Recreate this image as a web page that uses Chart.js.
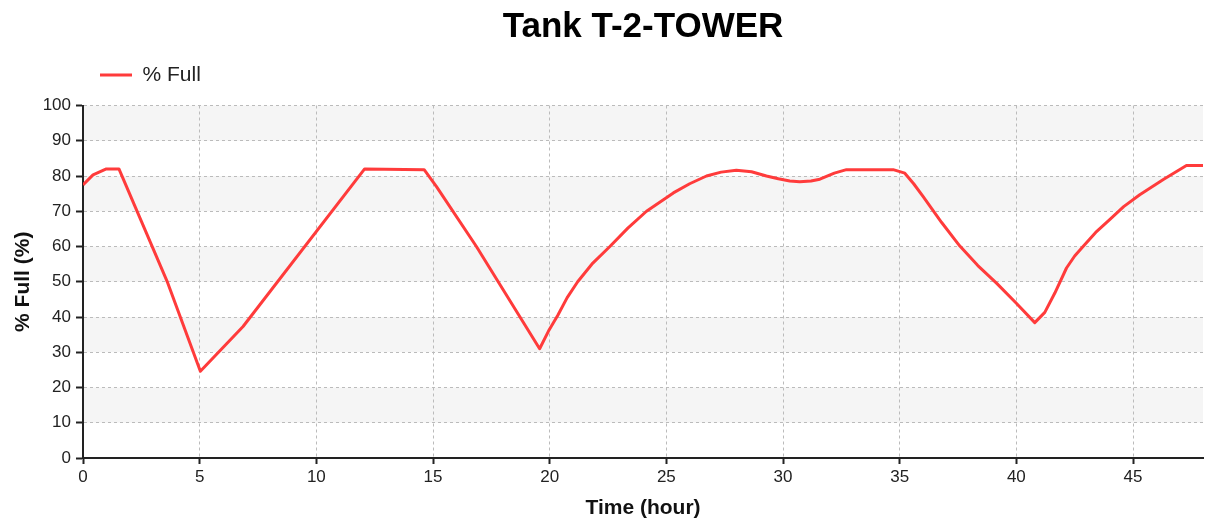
<!DOCTYPE html>
<html lang="en">
<head>
  <meta charset="UTF-8" />
  <title>Tank T-2-TOWER</title>
  <style>
    html, body {
      margin: 0;
      background: #ffffff;
    }
    .wrap {
      width: 1205px;
      height: 521px;
    }
  </style>
</head>
<body>
  <div class="wrap">
    <canvas id="tankChart" width="1205" height="521"></canvas>
  </div>

  <script src="https://cdn.jsdelivr.net/npm/chart.js"></script>
  <script>
    // Tank level over two days
    const hours = [
      0, 0.43, 1.0, 1.54, 3.6, 5.03, 6.86, 12.07, 14.62, 15.15, 16.86, 19.57,
      19.95, 20.35, 20.75, 21.2, 21.85, 22.58, 23.35, 24.15, 25.3, 26.0, 26.72, 27.35,
      28.0, 28.65, 29.29, 29.8, 30.29, 30.72, 31.2, 31.58, 32.2, 32.72, 34.72, 35.22,
      35.6, 36.0, 36.8, 37.57, 38.35, 39.15, 40.0, 40.79, 41.22, 41.65, 42.15, 42.5,
      42.86, 43.4, 44.0, 44.6, 45.29, 46.3, 47.29, 48.0
    ];
    const pctFull = [
      77.5, 80.3, 82.0, 82.0, 50.2, 24.6, 37.3, 82.0, 81.8, 77.0, 60.0, 31.0,
      36.0, 40.5, 45.5, 50.0, 55.3, 60.0, 65.2, 70.0, 75.2, 77.8, 80.0, 81.1,
      81.6, 81.2, 80.0, 79.2, 78.6, 78.4, 78.6, 79.1, 80.8, 81.8, 81.8, 80.8,
      77.8, 74.2, 66.8, 60.2, 54.6, 49.6, 43.9, 38.4, 41.3, 46.8, 53.9, 57.3,
      60.0, 64.0, 67.6, 71.3, 74.7, 79.0, 83.0, 83.0
    ];
    const xTickStep = 5;
    const yTickStep = 10;

    const fontFamily = '"Liberation Sans", Arial, sans-serif';
    const lineColor = '#ff3b3b';

    // light grey band behind every other 10% step
    const bandPlugin = {
      id: 'bands',
      beforeDraw(chart) {
        const { ctx, chartArea } = chart;
        const y = chart.scales.y;
        ctx.save();
        ctx.fillStyle = '#f5f5f5';
        for (let i = 1; i < y.ticks.length - 1; i += 2) {
          const top = y.getPixelForValue(y.ticks[i + 1].value);
          const bottom = y.getPixelForValue(y.ticks[i].value);
          ctx.fillRect(chartArea.left, top, chartArea.right - chartArea.left, bottom - top);
        }
        ctx.restore();
      }
    };

    // title centred over the plot, legend lined up with the plot's left edge
    const headerPlugin = {
      id: 'header',
      afterLayout(chart) {
        const area = chart.chartArea;
        const t = chart.titleBlock;
        const dx = (area.left + area.right) / 2 - (t.left + t.right) / 2;
        t.left += dx;
        t.right += dx;
        const lg = chart.legend;
        const lx = area.left + 7 - lg.left;
        lg.left += lx;
        lg.right += lx;
        lg.top -= 10;
        lg.bottom -= 10;
      }
    };

    const ctx = document.getElementById('tankChart').getContext('2d');
    new Chart(ctx, {
      type: 'line',
      data: {
        datasets: [{
          label: '% Full',
          data: hours.map((h, i) => ({ x: h, y: pctFull[i] })),
          borderColor: lineColor,
          backgroundColor: lineColor,
          borderWidth: 3,
          borderJoinStyle: 'round',
          pointRadius: 0,
          tension: 0,
          fill: false
        }]
      },
      options: {
        responsive: false,
        animation: false,
        layout: { padding: { top: 0, right: 2, bottom: 0, left: 0 } },
        plugins: {
          title: {
            display: true,
            text: 'Tank T-2-TOWER',
            color: '#000',
            font: { family: fontFamily, size: 35, weight: 'bold' },
            padding: { top: 6, bottom: 16.5 }
          },
          legend: {
            display: true,
            position: 'top',
            align: 'start',
            labels: {
              usePointStyle: true,
              pointStyle: 'line',
              pointStyleWidth: 32,
              padding: 10,
              color: '#222',
              font: { family: fontFamily, size: 21 }
            }
          },
          tooltip: { enabled: false }
        },
        scales: {
          x: {
            type: 'linear',
            min: 0,
            max: 48,
            afterFit(scale) { scale.height = 63; },
            ticks: {
              stepSize: xTickStep,
              includeBounds: false,
              color: '#222',
              padding: 3,
              maxRotation: 0,
              font: { family: fontFamily, size: 17 }
            },
            grid: {
              color: '#bbbbbb',
              lineWidth: 1,
              tickColor: '#222',
              tickLength: 6,
              tickWidth: 2,
              tickBorderDash: []
            },
            border: { color: '#222', width: 2, dash: [3, 3] },
            title: {
              display: true,
              text: 'Time (hour)',
              color: '#111',
              font: { family: fontFamily, size: 21, weight: 'bold' },
              padding: { top: 0, bottom: 0 }
            }
          },
          y: {
            min: 0,
            max: 100,
            afterFit(scale) { scale.width = 83; },
            ticks: {
              stepSize: yTickStep,
              color: '#222',
              padding: 5,
              font: { family: fontFamily, size: 17 }
            },
            grid: {
              color: '#bbbbbb',
              lineWidth: 1,
              tickColor: '#222',
              tickLength: 7,
              tickWidth: 2,
              tickBorderDash: []
            },
            border: { color: '#222', width: 2, dash: [3, 3] },
            title: {
              display: true,
              text: '% Full (%)',
              color: '#111',
              font: { family: fontFamily, size: 21, weight: 'bold' },
              padding: { top: 11, bottom: 0 }
            }
          }
        }
      },
      plugins: [bandPlugin, headerPlugin]
    });
  </script>
</body>
</html>
